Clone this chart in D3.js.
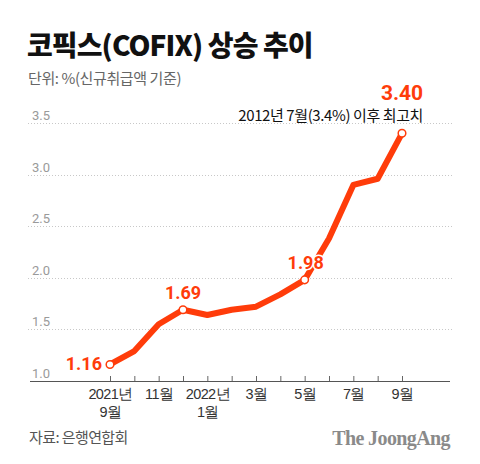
<!DOCTYPE html>
<html><head><meta charset="utf-8">
<script src="https://cdn.jsdelivr.net/npm/d3@7"></script>
<style>
html,body{margin:0;padding:0;background:#fff;}
svg{display:block;font-family:"Noto Sans CJK KR","Noto Sans",sans-serif;}
</style></head>
<body><svg id="c" width="480" height="464"></svg>
<script>
const months = ["2021-09","2021-10","2021-11","2021-12","2022-01","2022-02","2022-03","2022-04","2022-05","2022-06","2022-07","2022-08","2022-09"];
const cofix = [1.16,1.29,1.55,1.69,1.64,1.69,1.72,1.84,1.98,2.38,2.90,2.96,3.40];
const tickLabels = [["2021년","9월"],[""],["11월"],[""],["2022년","1월"],[""],["3월"],[""],["5월"],[""],["7월"],[""],["9월"]];
const yTicks = [1.5,2.0,2.5,3.0,3.5];
const highlighted = [0,3,8,12];
const title = "코픽스(COFIX) 상승 추이";
const subtitle = "단위: %(신규취급액 기준)";
const note = "2012년 7월(3.4%) 이후 최고치";
const source = "자료: 은행연합회";

const svg = d3.select("#c");
const red = "#ff3c0a";
const x = d3.scaleLinear().domain([0, months.length-1]).range([110, 402]);
const y = d3.scaleLinear().domain([1.0, 3.5]).range([381, 123]);

svg.append("text").attr("x",27).attr("y",56).attr("font-size",28).attr("font-weight",900)
  .attr("letter-spacing",-0.9).attr("fill","#111").text(title);
svg.append("text").attr("x",28).attr("y",84).attr("font-size",15).attr("fill","#666")
  .attr("letter-spacing",-0.4).text(subtitle);

// grid
const g = svg.append("g");
g.selectAll("line.grid").data(yTicks).join("line").attr("class","grid")
  .attr("x1",28).attr("x2",452).attr("y1",d=>Math.round(y(d))+0.5).attr("y2",d=>Math.round(y(d))+0.5)
  .attr("stroke","#c8c8c8").attr("stroke-width",1).attr("stroke-dasharray","1,2");
g.selectAll("text.yl").data([1.0].concat(yTicks)).join("text").attr("class","yl")
  .attr("x",32).attr("y",d=>y(d)-3).attr("font-size",13).attr("fill","#9a9a9a")
  .attr("font-family","Roboto, 'Noto Sans', sans-serif").text(d=>d.toFixed(1));

// x axis
const axis = d3.axisBottom(x).tickValues(d3.range(months.length)).tickSizeInner(-5).tickSizeOuter(0).tickFormat("");
const ax = svg.append("g").attr("transform","translate(0,381)").call(axis);
ax.select(".domain").remove();
ax.selectAll(".tick line").attr("stroke","#666");
svg.append("line").attr("x1",30).attr("x2",450).attr("y1",381.5).attr("y2",381.5).attr("stroke","#555").attr("stroke-width",1);
ax.selectAll(".tick").each(function(d,i){
  const t = d3.select(this).append("text").attr("fill","#333").attr("font-size",14.5)
    .attr("text-anchor","middle").attr("letter-spacing",-0.6).attr("y",18);
  tickLabels[i].forEach((s,k)=>{ t.append("tspan").attr("x",0).attr("dy",k?18:0).text(s); });
});

// line
const line = d3.line().x((d,i)=>x(i)).y(d=>y(d));
svg.append("path").datum(cofix).attr("d",line).attr("fill","none").attr("stroke",red)
  .attr("stroke-width",6).attr("stroke-linejoin","round");

// labels with halo
function lab(txt, px, py, anchor, size){
  svg.append("text").attr("x",px).attr("y",py).attr("text-anchor",anchor).attr("font-size",size)
    .attr("font-weight",700).attr("fill",red).attr("stroke","#fff").attr("stroke-width",3)
    .attr("paint-order","stroke").attr("font-family","Roboto, 'Noto Sans', sans-serif").text(txt);
}
svg.selectAll("circle.pt").data(highlighted).join("circle").attr("class","pt")
  .attr("cx",i=>x(i)).attr("cy",i=>y(cofix[i])).attr("r",3.8)
  .attr("fill","#fff").attr("stroke",red).attr("stroke-width",1.5);
lab(cofix[0].toFixed(2), x(0)-8, y(cofix[0])+6, "end", 18);
lab(cofix[3].toFixed(2), x(3), y(cofix[3])-11, "middle", 18);
lab(cofix[8].toFixed(2), x(8)+1, y(cofix[8])-11, "middle", 18);
lab(cofix[12].toFixed(2), x(12), y(cofix[12])-33, "middle", 21);
svg.append("text").attr("x",423).attr("y",121).attr("text-anchor","end").attr("font-size",15)
  .attr("fill","#111").attr("letter-spacing",-0.4).text(note);

// footer
svg.append("text").attr("x",29).attr("y",443).attr("font-size",15).attr("fill","#555")
  .attr("letter-spacing",-0.6).text(source);
svg.append("text").attr("x",450).attr("y",445).attr("text-anchor","end").attr("font-size",20)
  .attr("font-weight",700).attr("fill","#8a8a8a").attr("letter-spacing",-0.6)
  .attr("font-family","'Liberation Serif','DejaVu Serif',serif").text("The JoongAng");
</script></body></html>
